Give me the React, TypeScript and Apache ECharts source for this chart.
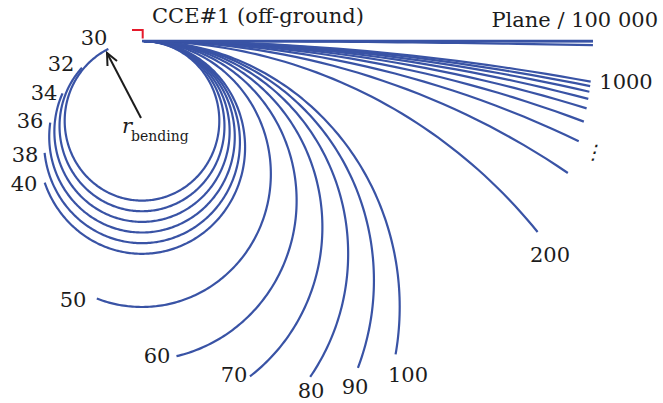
import React, { useEffect, useRef } from "react";
import * as echarts from "echarts";

// Cable length (same for every curve) and the bending radii that are drawn.
const CABLE_LENGTH = 175;
const BEND_RADII = [30, 32, 34, 36, 38, 40, 50, 60, 70, 80, 90, 100, 200, 300, 400, 500, 600, 700, 800, 900, 1000, 10000, 100000];
const LABELLED_RADII = [30, 32, 34, 36, 38, 40, 50, 60, 70, 80, 90, 100, 200, 1000];
const TITLE = "CCE#1 (off-ground)";
const PLANE_LABEL = "Plane / 100 000";
const ELLIPSIS = "⋮";

// Layout: pixel centres of the radius labels.
const LABEL_POS: Record<number, [number, number]> = {
  30: [94, 38],
  32: [61, 64],
  34: [44, 93],
  36: [30, 121],
  38: [25, 155],
  40: [24, 184],
  50: [73, 300],
  60: [157, 356],
  70: [234, 375],
  80: [311, 391],
  90: [355, 387],
  100: [408, 375],
  200: [550, 255],
  1000: [626, 82],
};

const BLUE = "#3953a5";
const INK = "#1c1c1c";
const FONT = '"DejaVu Serif", "Liberation Serif", serif';

export default function App() {
  const ref = useRef<HTMLDivElement>(null);

  useEffect(() => {
    if (!ref.current) return;
    const chart = echarts.init(ref.current, undefined, { renderer: "svg" });

    const labelTexts = LABELLED_RADII.map((r) => ({
      type: "text",
      silent: true,
      style: {
        text: String(r),
        x: LABEL_POS[r][0],
        y: LABEL_POS[r][1],
        textAlign: "center",
        textVerticalAlign: "middle",
        verticalAlign: "middle",
        font: `21px ${FONT}`,
        fill: INK,
      },
    }));

    // arrow showing the bending radius
    const tail: [number, number] = [141, 118];
    const tip: [number, number] = [107, 53];

    chart.setOption({
      animation: false,
      backgroundColor: "#ffffff",
      grid: { left: 13.15, width: 644.25, top: 14.4, height: 372.4 },
      xAxis: { type: "value", min: -50, max: 200, show: false },
      yAxis: { type: "value", min: -130, max: 10, show: false },
      series: [
        {
          type: "custom",
          coordinateSystem: "cartesian2d",
          clip: false,
          data: BEND_RADII.map((r) => [r, 0]),
          renderItem: (_params: any, api: any) => {
            const r = api.value(0);
            const sweep = CABLE_LENGTH / r;
            const n = Math.max(30, Math.ceil(sweep * 60));
            const points: number[][] = [];
            for (let i = 0; i <= n; i++) {
              const a = (sweep * i) / n;
              points.push(api.coord([r * Math.sin(a), -r * (1 - Math.cos(a))]));
            }
            return {
              type: "polyline",
              shape: { points },
              style: { stroke: BLUE, lineWidth: 2.2, fill: null },
            };
          },
        },
        {
          type: "line",
          name: "Plane",
          data: [
            [0, 0],
            [CABLE_LENGTH, 0],
          ],
          symbol: "none",
          lineStyle: { color: BLUE, width: 2.6 },
        },
      ],
      graphic: [
        ...labelTexts,
        {
          type: "text",
          silent: true,
          style: {
            text: TITLE,
            x: 152,
            y: 26,
            textAlign: "left",
            textVerticalAlign: "bottom",
            verticalAlign: "bottom",
            font: `21px ${FONT}`,
            fill: INK,
          },
        },
        {
          type: "text",
          silent: true,
          style: {
            text: PLANE_LABEL,
            x: 658,
            y: 30,
            textAlign: "right",
            textVerticalAlign: "bottom",
            verticalAlign: "bottom",
            font: `21px ${FONT}`,
            fill: INK,
          },
        },
        {
          type: "text",
          silent: true,
          style: {
            text: ELLIPSIS,
            x: 593,
            y: 152,
            textAlign: "center",
            textVerticalAlign: "middle",
            verticalAlign: "middle",
            font: `italic 20px ${FONT}`,
            fill: INK,
          },
        },
        {
          type: "text",
          silent: true,
          style: {
            text: "r",
            x: 122,
            y: 136,
            textAlign: "left",
            textVerticalAlign: "bottom",
            verticalAlign: "bottom",
            font: `italic 21px ${FONT}`,
            fill: INK,
          },
        },
        {
          type: "text",
          silent: true,
          style: {
            text: "bending",
            x: 131,
            y: 143,
            textAlign: "left",
            textVerticalAlign: "bottom",
            verticalAlign: "bottom",
            font: `14px ${FONT}`,
            fill: INK,
          },
        },
        {
          type: "polyline",
          silent: true,
          shape: { points: [[132, 30], [142.7, 30], [142.7, 38.5]] },
          style: { stroke: "#e51a2b", lineWidth: 2, fill: null },
        },
        {
          type: "line",
          silent: true,
          shape: { x1: tail[0], y1: tail[1], x2: tip[0], y2: tip[1] },
          style: { stroke: INK, lineWidth: 2 },
        },
        {
          type: "polyline",
          silent: true,
          shape: { points: [[107.5, 66], tip, [117, 61]] },
          style: { stroke: INK, lineWidth: 2, fill: null },
        },
      ],
    });

    return () => chart.dispose();
  }, []);

  return (
    <div
      ref={ref}
      style={{ position: "absolute", left: 0, top: 0, width: 663, height: 403, background: "#fff" }}
    />
  );
}
